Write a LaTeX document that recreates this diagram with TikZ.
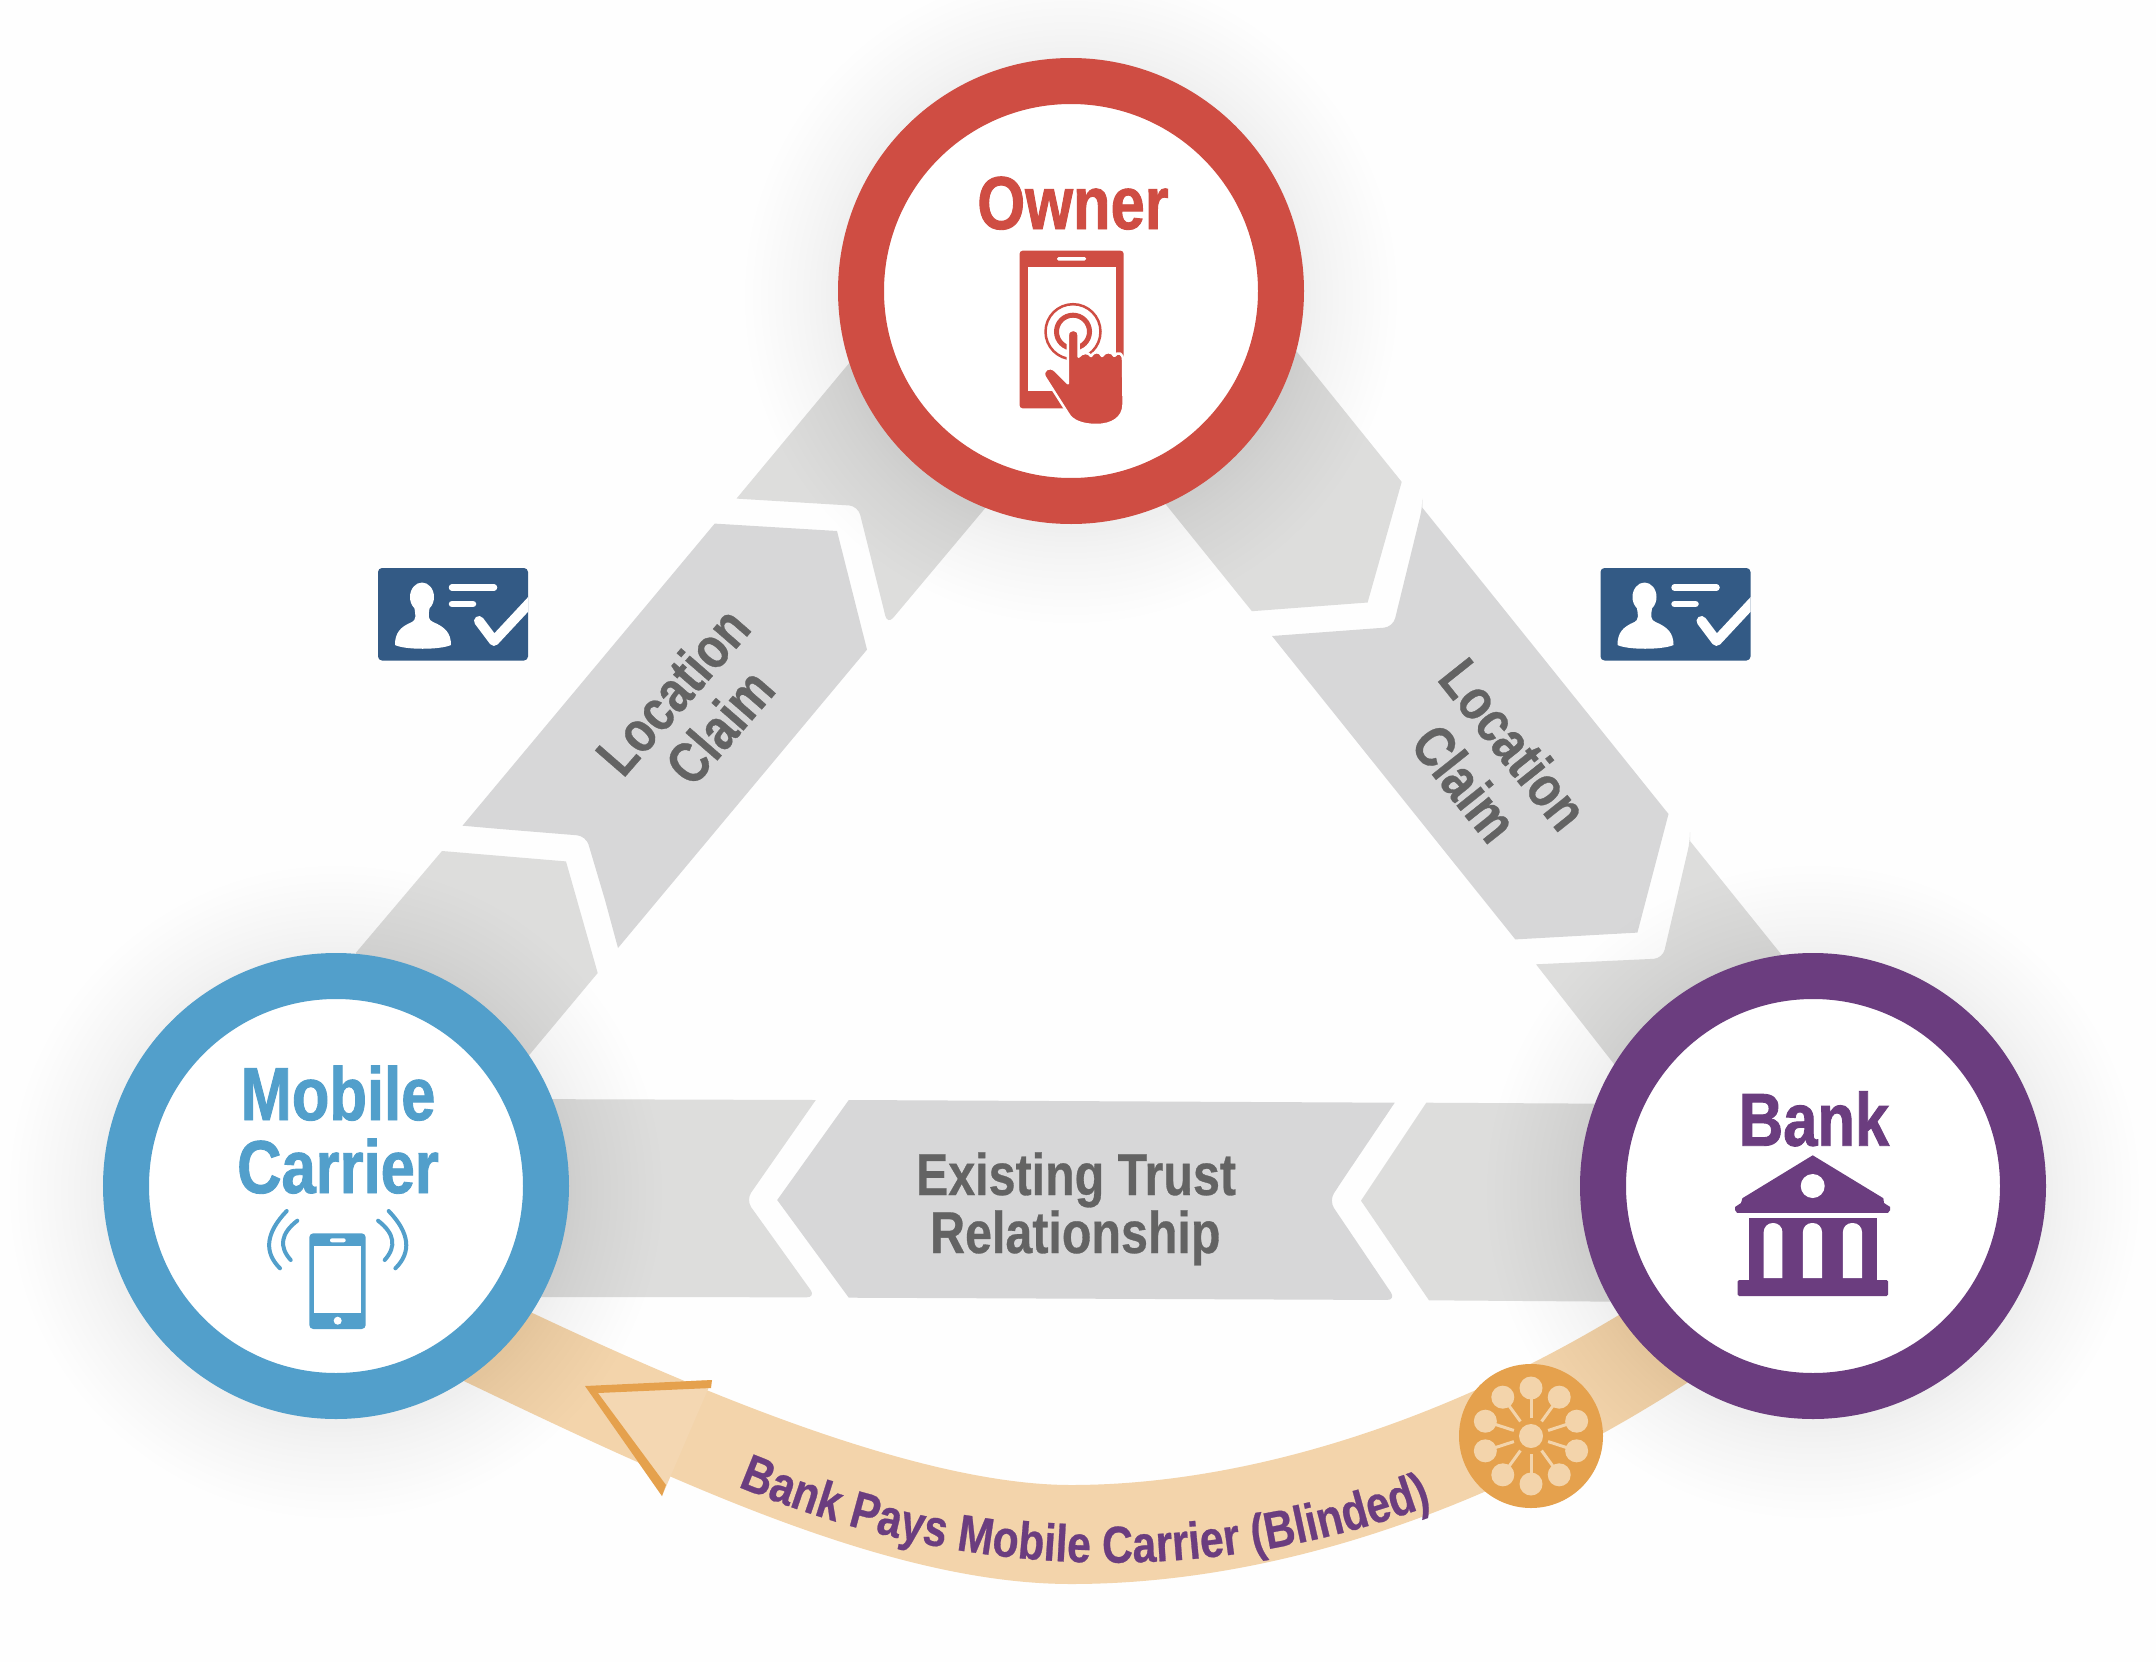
\documentclass[tikz,border=0pt]{standalone}
\usepackage{fontspec}
\setmainfont{Liberation Sans}
\newfontfamily\cond[FakeStretch=0.82,BoldFeatures={FakeBold=0.5}]{Liberation Sans}
\newfontfamily\condh[FakeStretch=0.82,BoldFeatures={FakeBold=1.2}]{Liberation Sans}
\usetikzlibrary{decorations.text}
\definecolor{bgc}{HTML}{FEFEFE}
\definecolor{armA}{HTML}{DDDDDC}
\definecolor{armB}{HTML}{D7D7D8}
\definecolor{txtgray}{HTML}{636363}
\definecolor{ownerred}{HTML}{CF4D43}
\definecolor{carrierblue}{HTML}{529FCB}
\definecolor{bankpurple}{HTML}{6B3D7F}
\definecolor{bandc}{HTML}{F3D4AB}
\definecolor{orangec}{HTML}{E5A14D}
\definecolor{navyc}{HTML}{335A85}
\tikzset{
  ring/.style={circle,fill=white,line width=46pt,minimum size=420pt,inner sep=0pt,outer sep=0pt},
  bigname/.style={anchor=base,inner sep=0pt,font=\condh\bfseries\fontsize{75pt}{80pt}\selectfont},
  armtext/.style={inner sep=0pt,text=txtgray,font=\cond\bfseries\fontsize{58pt}{60pt}\selectfont},
  midtext/.style={anchor=base,inner sep=0pt,text=txtgray,font=\cond\bfseries\fontsize{59pt}{60pt}\selectfont}
}
\newcommand{\haloat}[2]{%
  \foreach \hr in {236,240,245,250,256,262,268,275,282,289,296,303,310,318,326}{\fill[black,opacity=.004] (#1,#2) circle[radius=\hr];}%
}
\begin{document}
\begin{tikzpicture}[x=1pt,y=-1pt]
\useasboundingbox (0,0) rectangle (2156,1662);
\fill[bgc] (0,0) rectangle (2156,1662);

% left arm
\fill[armA] (890,314) -- (736.5,498.6) -- (850,505.5) [rounded corners=9pt] -- (858,506) -- (887.5,624.6) [sharp corners] -- (1023,463) -- cycle;
\fill[armB] (462.5,825.7) -- (714.7,523.6) -- (837,531) -- (867,649.6) -- (618,948) -- (605,900) [rounded corners=9pt] -- (586,836) -- (500,829) [sharp corners] -- cycle;
\fill[armA] (442,851) -- (566,861.4) -- (597.7,973) -- (480,1114) -- (355.7,953) -- cycle;

% right arm
\fill[armA] (1130,460) -- (1251.9,611.2) -- (1367.6,602.5) -- (1401.7,481.9) -- (1260,306) -- cycle;
\fill[armB] (1422.3,507.6) -- (1668.5,814) -- (1637.4,932.6) -- (1515.3,939.4) -- (1272,636) -- (1380,628) [rounded corners=9pt] -- (1393,627) -- (1422.3,507.6) [sharp corners] -- cycle;
\fill[armA] (1690,841) -- (1830,1015) -- (1650,1110) -- (1536,964.3) -- (1650,959) [rounded corners=9pt] -- (1662.6,958.5) -- (1690,841) [sharp corners] -- cycle;

% bottom arm
\fill[armA] (500,1099) -- (815.8,1100) -- (765.5,1172) [rounded corners=9pt] -- (746,1200) -- (815.8,1297.3) [sharp corners] -- (500,1297) -- cycle;
\fill[armB] (848.8,1100) -- (1394.7,1102.7) -- (1346,1175) [rounded corners=9pt] -- (1329,1200.7) -- (1396,1300) [sharp corners] -- (848.8,1297.7) -- (777.2,1200) -- cycle;
\fill[armA] (1426.3,1102.7) -- (1660,1104) -- (1660,1302) -- (1429,1300.3) -- (1361,1200.7) -- cycle;

% band
\fill[bandc] (480,1288) .. controls (640,1365) and (900,1485) .. (1071,1485)
  .. controls (1260,1485) and (1490,1410) .. (1700,1262)
  -- (1750,1340) .. controls (1530,1498) and (1290,1584) .. (1071,1584)
  .. controls (880,1584) and (650,1470) .. (420,1360) -- cycle;
\fill[bandc!92!white] (585,1386) -- (712,1380) -- (662,1496) -- cycle;
\fill[orangec] (585,1386) -- (712,1380) -- (711,1388) -- (598,1393) -- (666,1485) -- (662,1496) -- cycle;

% text on the band
\path[decorate,decoration={text along path,text align=center,
  text={|\cond\bfseries\fontsize{52pt}{54pt}\selectfont\color{bankpurple}|Bank Pays Mobile Carrier (Blinded)}}]
  (700,1470) .. controls (960,1590) and (1230,1590) .. (1470,1490);

% halos
\haloat{1071}{297}
\haloat{336}{1192}
\haloat{1813}{1192}

% circles
\node[ring,draw=ownerred] (owner) at (1071,291) {};
\node[ring,draw=carrierblue] (carrier) at (336,1186) {};
\node[ring,draw=bankpurple] (bank) at (1813,1186) {};

% names
\node[bigname,text=ownerred] (ownername) at (1073,229) {Owner};
\node[bigname,text=carrierblue] (mob) at (338,1120) {Mobile};
\node[bigname,text=carrierblue] (car) at (338,1193) {Carrier};
\node[bigname,text=bankpurple] (bankname) at (1814,1145.7) {Bank};

% arm labels
\node[armtext,rotate=49] (loc1) at (672.5,690.7) {Location};
\node[armtext,rotate=49] (cl1) at (719.5,726.4) {Claim};
\node[armtext,rotate=-51.5] (loc2) at (1514,744) {Location};
\node[armtext,rotate=-51.5] (cl2) at (1465,783) {Claim};
\node[midtext] (ex) at (1076,1195) {Existing Trust};
\node[midtext] (rel) at (1075.3,1253) {Relationship};

% owner icon
\fill[ownerred,rounded corners=3pt] (1019.6,250.7) rectangle (1123.6,408.3);
\fill[white] (1027.5,267) rectangle (1115.7,390.7);
\fill[white,rounded corners=1.5pt] (1057,257) rectangle (1086,260.7);
\draw[ownerred,line width=2.5pt] (1073,331.7) circle[radius=27.5];
\draw[ownerred,line width=5pt] (1073,331.7) circle[radius=16.5];
\fill[ownerred,draw=white,line width=2.5pt,line join=round] (1067.9,335) .. controls (1067.9,328) and (1078.6,328) .. (1078.6,335)
  -- (1078.6,356.7) .. controls (1082,352) and (1089,352) .. (1091,356) .. controls (1094,351) and (1100,351) .. (1102,356) .. controls (1105,351) and (1112,351) .. (1114.3,356) .. controls (1118,351) and (1123,353) .. (1123,360)
  -- (1123.6,404) .. controls (1123.6,418) and (1112,425) .. (1096.4,425) .. controls (1082,425) and (1072,421) .. (1067.9,413.3)
  -- (1044.6,376.7) .. controls (1042,370) and (1049,365) .. (1055.4,370.7) -- (1067.9,383.3) -- cycle;

% carrier icon
\fill[carrierblue,rounded corners=4pt] (309.3,1233.3) rectangle (365.7,1329);
\fill[white] (314.3,1246) rectangle (361,1312.7);
\fill[white,rounded corners=2pt] (330,1238.3) rectangle (345.7,1242.3);
\fill[white] (337.7,1320.7) circle[radius=4];
\draw[carrierblue,line width=4pt,line cap=round] (286.7,1211) .. controls (265.8,1232.8) and (263.5,1252) .. (280,1268.3);
\draw[carrierblue,line width=4pt,line cap=round] (297.3,1220.7) .. controls (280.8,1233.4) and (278.6,1246.5) .. (290.7,1260);
\draw[carrierblue,line width=4pt,line cap=round] (388.7,1211) .. controls (409.6,1232.8) and (411.9,1252) .. (395.4,1268.3);
\draw[carrierblue,line width=4pt,line cap=round] (378.1,1220.7) .. controls (394.6,1233.4) and (396.8,1246.5) .. (384.7,1260);

% bank icon
\fill[bankpurple,line join=round] (1812.7,1155.3) -- (1883.3,1198.2) -- (1884,1203) -- (1890.2,1207) -- (1890.2,1210) -- (1888,1212.8) -- (1737,1212.8) -- (1735,1210) -- (1735,1207) -- (1741,1203) -- (1742.4,1198.2) -- cycle;
\fill[white] (1812.7,1186) circle[radius=12];
\fill[bankpurple] (1748.6,1218) rectangle (1877,1282);
\fill[bankpurple,rounded corners=1.5pt] (1737.6,1280) rectangle (1888,1296);
\foreach \wa/\wb in {1763.7/1782.4,1802.9/1822,1842.9/1862}{
  \fill[white] (\wa,1278) [rounded corners=9pt] -- (\wa,1223) -- (\wb,1223) [sharp corners] -- (\wb,1278) -- cycle;
}

% seal
\fill[orangec] (1531,1436) circle[radius=72];
\fill[bandc] (1531,1436) circle[radius=12];
\foreach \a in {90,54,18,-18,-54,-90,-126,-162,162,126}{
  \fill[bandc] ({1531+48*cos(\a)},{1436-48*sin(\a)}) circle[radius=11.5];
  \draw[bandc,line width=3pt] ({1531+18*cos(\a)},{1436-18*sin(\a)}) -- ({1531+40*cos(\a)},{1436-40*sin(\a)});
}

% id cards
\foreach \dx in {0,1222.5}{
\begin{scope}[shift={(\dx,0)}]
  \fill[navyc,rounded corners=4pt] (378,568) rectangle (528,660.5);
  \fill[white] (422,597) ellipse[x radius=12,y radius=14.5];
  \fill[white] (414,606) .. controls (416,616) and (416,620) .. (412,622) .. controls (400,627) and (395,633) .. (395,645) .. controls (405,650) and (440,650) .. (451,645) .. controls (451,633) and (445,627) .. (433,622) .. controls (428,620) and (428,616) .. (430,606) -- cycle;
  \draw[white,line width=6.5pt,line cap=round] (452,587.5) -- (494,587.5);
  \draw[white,line width=6.5pt,line cap=round] (452,604) -- (473,604);
  \begin{scope}
    \clip (378,568) rectangle (528,660.5);
    \draw[white,line width=10pt,line cap=round,line join=round] (479,621) -- (494,641) -- (535,597);
  \end{scope}
\end{scope}
}
\end{tikzpicture}
\end{document}
